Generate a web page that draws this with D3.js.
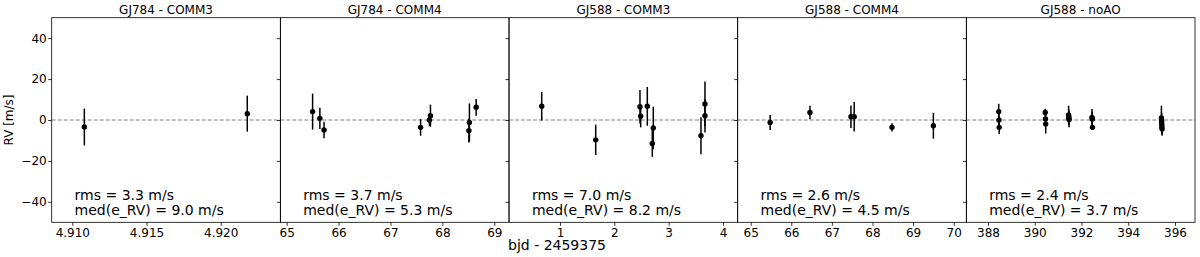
<!DOCTYPE html>
<html>
<head>
<meta charset="utf-8">
<script src="https://cdn.jsdelivr.net/npm/d3@7"></script>
<style>
  body { margin: 0; background: #fff; }
  svg { display: block; font-family: "DejaVu Sans", sans-serif; }
</style>
</head>
<body>
<div id="chart"></div>
<script>
// panel titles and summary numbers
var panelTitles = ["GJ784 - COMM3", "GJ784 - COMM4", "GJ588 - COMM3", "GJ588 - COMM4", "GJ588 - noAO"];
var rmsValues = ["3.3", "3.7", "7.0", "2.6", "2.4"];
var medErrValues = ["9.0", "5.3", "8.2", "4.5", "3.7"];

// axis limits and tick labels
var xDomains = [[4.90861, 4.92402], [64.879, 69.283], [0.061, 4.271], [64.68, 70.312], [387.075, 396.857]];
var xTicks = [[4.910, 4.915, 4.920], [65, 66, 67, 68, 69], [1, 2, 3, 4], [65, 66, 67, 68, 69, 70], [388, 390, 392, 394, 396]];
var yDomain = [-50, 50];
var yTicks = [-40, -20, 0, 20, 40];

// GJ784 - COMM3
var gj784c3Bjd = [4.91081, 4.92179];
var gj784c3Rv  = [-3.4, 3.1];
var gj784c3Err = [9.0, 8.8];

// GJ784 - COMM4
var gj784c4Bjd = [65.50, 65.64, 65.72, 67.58, 67.75, 67.77, 68.51, 68.52, 68.65];
var gj784c4Rv  = [4.1, 0.8, -4.9, -3.6, 0.0, 2.1, -5.2, -1.2, 6.2];
var gj784c4Err = [8.8, 5.2, 4.0, 4.1, 3.0, 5.4, 5.8, 9.3, 4.1];

// GJ588 - COMM3
var gj588c3Bjd = [0.663, 1.657, 2.472, 2.485, 2.607, 2.717, 2.699, 3.595, 3.669, 3.669];
var gj588c3Rv  = [6.7, -9.7, 6.5, 1.8, 6.7, -3.9, -11.5, -7.7, 2.1, 7.8];
var gj588c3Err = [7.0, 7.4, 8.2, 5.4, 9.5, 10.4, 6.5, 9.0, 8.2, 11.0];

// GJ588 - COMM4
var gj588c4Bjd = [65.48, 66.46, 67.47, 67.55, 68.48, 69.50];
var gj588c4Rv  = [-1.2, 3.7, 1.6, 1.6, -3.6, -2.8];
var gj588c4Err = [3.7, 3.3, 5.5, 7.2, 2.0, 6.3];

// GJ588 - noAO
var gj588noBjd = [388.46, 388.47, 388.48, 390.45, 390.46, 390.47, 391.45, 391.46, 391.46, 391.47,
                  392.45, 392.46, 392.47, 395.42, 395.43, 395.43, 395.44, 395.44, 395.45];
var gj588noRv  = [4.1, 0.0, -3.6, 3.7, 0.5, -2.0, 2.5, 1.5, 0.8, 0.2,
                  1.3, 0.5, -3.6, 1.0, -0.5, -1.5, -2.5, -3.5, -4.4];
var gj588noErr = [3.8, 3.5, 3.2, 1.8, 3.5, 4.6, 4.5, 3.5, 3.5, 3.8,
                  4.1, 3.5, 1.3, 6.0, 4.0, 3.5, 4.0, 3.5, 3.3];

var panelBjd = [gj784c3Bjd, gj784c4Bjd, gj588c3Bjd, gj588c4Bjd, gj588noBjd];
var panelRv  = [gj784c3Rv, gj784c4Rv, gj588c3Rv, gj588c4Rv, gj588noRv];
var panelErr = [gj784c3Err, gj784c4Err, gj588c3Err, gj588c4Err, gj588noErr];

// figure layout
var figW = 1200, figH = 257;
var plotLeft = 51.7, plotRight = 1195, plotTop = 17.7, plotBottom = 222.3;
var panelW = (plotRight - plotLeft) / panelTitles.length;

var svg = d3.select("#chart").append("svg")
        .attr("width", figW)
        .attr("height", figH);

var y = d3.scaleLinear().domain(yDomain).range([plotBottom, plotTop]);

panelTitles.forEach(function(title, i) {
  var x0 = plotLeft + i * panelW;
  var x = d3.scaleLinear().domain(xDomains[i]).range([x0, x0 + panelW]);
  var g = svg.append("g");

  // zero line
  g.append("line")
        .attr("x1", x0).attr("x2", x0 + panelW)
        .attr("y1", y(0)).attr("y2", y(0))
        .attr("stroke", "gray")
        .attr("stroke-width", 1)
        .attr("stroke-dasharray", "4,2");

  // data with error bars
  var data = panelBjd[i].map(function(d, k) {
    return { bjd: d, rv: panelRv[i][k], err: panelErr[i][k] };
  });

  g.selectAll(".err").data(data).enter().append("line")
        .attr("x1", function(d) { return x(d.bjd); })
        .attr("x2", function(d) { return x(d.bjd); })
        .attr("y1", function(d) { return y(d.rv - d.err); })
        .attr("y2", function(d) { return y(d.rv + d.err); })
        .attr("stroke", "#000")
        .attr("stroke-width", 1.5);

  g.selectAll(".pt").data(data).enter().append("circle")
        .attr("cx", function(d) { return x(d.bjd); })
        .attr("cy", function(d) { return y(d.rv); })
        .attr("r", 2.7)
        .attr("fill", "#000");

  // x axis
  var xAxis = d3.axisBottom(x)
        .tickValues(xTicks[i])
        .tickSize(3.5)
        .tickPadding(3)
        .tickFormat(i == 0 ? d3.format(".3f") : d3.format("d"));
  var gx = g.append("g")
        .attr("transform", "translate(0," + plotBottom + ")")
        .call(xAxis);

  // y axis (labels only on the first panel)
  var yAxis = d3.axisLeft(y)
        .tickValues(yTicks)
        .tickSize(3.5)
        .tickPadding(1.5)
        .tickFormat(i == 0 ? d3.format("d") : "");
  var gy = g.append("g")
        .attr("transform", "translate(" + x0 + ",0)")
        .call(yAxis);

  [gx, gy].forEach(function(a) {
    a.select(".domain").remove();
    a.selectAll("line").attr("stroke", "#000").attr("stroke-width", 0.8);
    a.selectAll("text")
        .attr("fill", "#000")
        .style("font-size", "12px")
        .style("font-family", "DejaVu Sans");
  });

  // frame
  g.append("rect")
        .attr("x", x0).attr("y", plotTop)
        .attr("width", panelW).attr("height", plotBottom - plotTop)
        .attr("fill", "none")
        .attr("stroke", "#000")
        .attr("stroke-width", 0.8);

  // title
  g.append("text")
        .attr("x", x0 + panelW / 2)
        .attr("y", 13.5)
        .attr("text-anchor", "middle")
        .style("font-size", "12px")
        .text(title);

  // rms annotation
  var note = g.append("text")
        .style("font-size", "14px");
  note.append("tspan").attr("x", x0 + panelW * 0.1).attr("y", 199.5)
        .text("rms = " + rmsValues[i] + " m/s");
  note.append("tspan").attr("x", x0 + panelW * 0.1).attr("y", 214.5)
        .text("med(e_RV) = " + medErrValues[i] + " m/s");
});

// axis labels
svg.append("text")
        .attr("transform", "translate(13," + ((plotTop + plotBottom) / 2) + ") rotate(-90)")
        .attr("text-anchor", "middle")
        .style("font-size", "12px")
        .text("RV [m/s]");

svg.append("text")
        .attr("x", 557)
        .attr("y", 250)
        .attr("text-anchor", "middle")
        .style("font-size", "14px")
        .text("bjd - 2459375");
</script>
</body>
</html>
